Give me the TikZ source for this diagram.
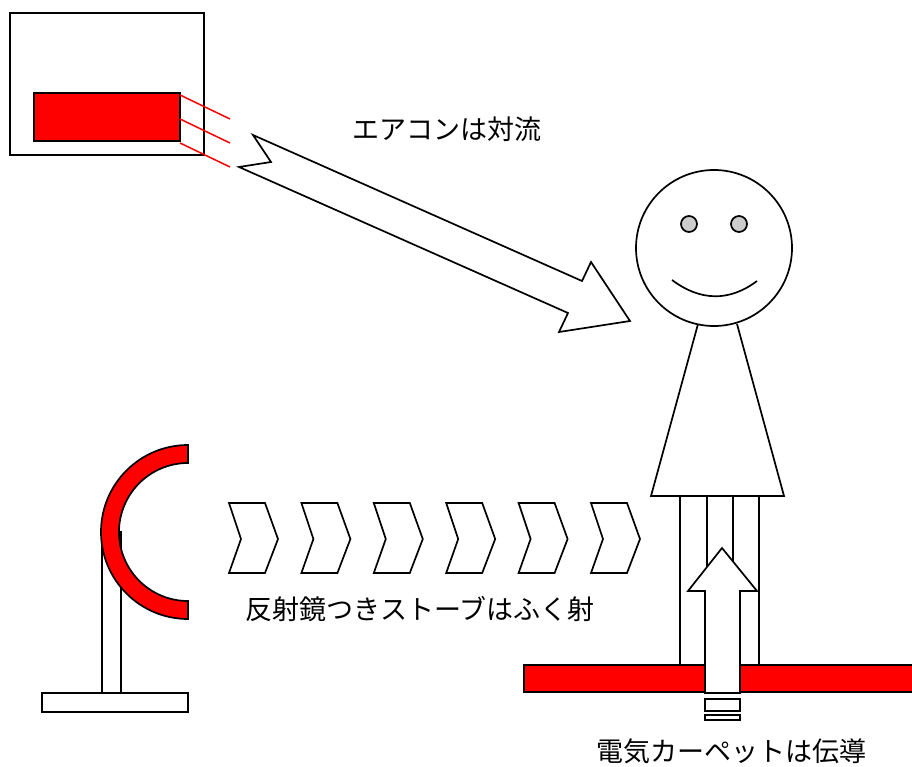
\documentclass[tikz,border=0pt]{standalone}
\usepackage{fontspec}
\newfontfamily\jpfont{Noto Sans CJK JP}
\tikzset{%
	outline/.style = {draw,line width=1.7pt,line join=miter},
	hot/.style = {outline,fill=red},
	blank/.style = {outline,fill=white},
	caption/.style = {font=\jpfont\fontsize{27}{30}\selectfont,inner sep=0}%
}

\begin{document}
\begin{tikzpicture}[x=1pt,y=-1pt]
		\clip (0,0) rectangle (912,767);
		
		% air conditioner
		\draw[outline] (10,13) rectangle (204,155);
		\draw[hot] (34,93) rectangle (180,141);
		\foreach \y in {95,119,143}
			\draw[red,line width=1.5pt] (180,\y) -- (230,\y+24);
		\draw[blank] (253,135) -- (582,281) -- (591,262) -- (630,321) -- (559,332)
			-- (568,313) -- (239,167) -- (271,162) -- cycle;
		\node(aircon)[caption] at (447,129){エアコンは対流};
		
		% person
		\draw[outline] (680,496) rectangle (707,665);
		\draw[outline] (733,496) rectangle (759,665);
		\draw[blank] (698,324) -- (651,496) -- (784,496) -- (737,324);
		\draw[blank] (714,248) circle[radius=78];
		\foreach \x in {689,739}
			\draw[outline,fill=black!20] (\x,224) circle[radius=8];
		\draw[outline] (672,280) .. controls (700,301) and (729,302) .. (757,281);
		
		% electric carpet
		\draw[hot] (524,665) rectangle (930,692);
		\draw[blank] (705,693) -- (705,591) -- (688,591) -- (722,548) -- (757,591)
			-- (740,591) -- (740,693) -- cycle;
		\draw[outline] (705,699) rectangle (740,711);
		\draw[outline] (705,715) rectangle (740,720);
		\node(carpet)[caption] at (731,751){電気カーペットは伝導};
		
		% stove with reflector
		\draw[outline] (102,532) rectangle (121,693);
		\draw[outline] (42,693) rectangle (188,712);
		\draw[hot] (188,445) arc[start angle=270,end angle=90,radius=87]
			-- (188,601) arc[start angle=90,end angle=270,radius=69] -- cycle;
		\foreach \i in {0,...,5}
			\draw[outline,xshift=72.4*\i] (229,503) -- (265,503) -- (278,539)
				-- (265,573) -- (229,573) -- (241,539) -- cycle;
		\node(stove)[caption] at (420,609){反射鏡つきストーブはふく射};
		
\end{tikzpicture}
\end{document}
